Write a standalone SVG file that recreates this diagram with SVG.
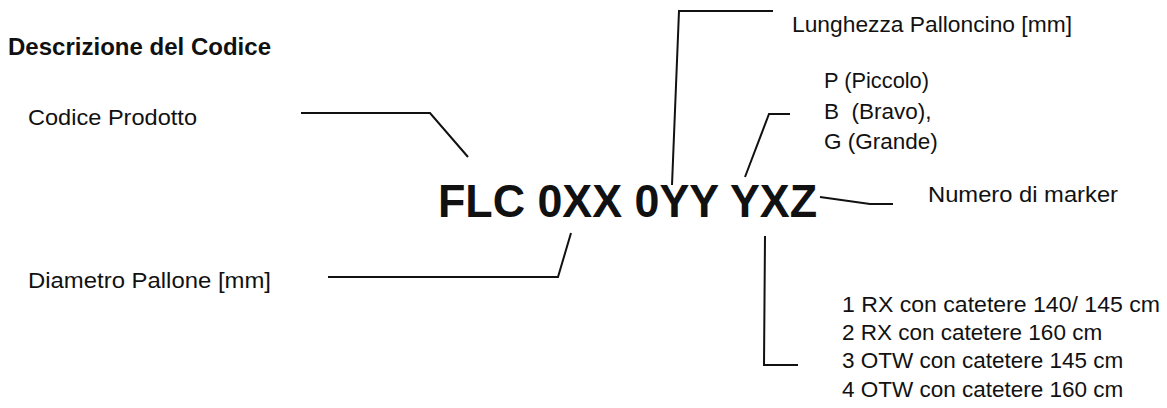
<svg xmlns="http://www.w3.org/2000/svg" width="1167" height="408" viewBox="0 0 1167 408">
<style>
text{font-family:"Liberation Sans",Arial,sans-serif;fill:#111;}
.t{font-size:22.5px;}
.b{font-weight:bold;}
.c{fill:none;stroke:#111;stroke-width:2;stroke-linejoin:miter;}
</style>
<rect width="1167" height="408" fill="#fff"/>
<g id="title"><text class="b" x="8" y="55" font-size="23" textLength="263" lengthAdjust="spacingAndGlyphs">Descrizione del Codice</text></g>
<g id="code"><text class="b" x="438" y="217" font-size="46" textLength="379" lengthAdjust="spacingAndGlyphs">FLC 0XX 0YY YXZ</text></g>
<g id="codice-prodotto"><text class="t" x="28" y="125" textLength="169" lengthAdjust="spacingAndGlyphs">Codice Prodotto</text></g>
<g id="diametro"><text class="t" x="28" y="288" textLength="243" lengthAdjust="spacingAndGlyphs">Diametro Pallone [mm]</text></g>
<g id="lunghezza"><text class="t" x="792" y="32" textLength="280" lengthAdjust="spacingAndGlyphs">Lunghezza Palloncino [mm]</text></g>
<g id="taglia">
<text class="t" x="824" y="88" textLength="105" lengthAdjust="spacingAndGlyphs">P (Piccolo)</text>
<text class="t" x="824" y="119" xml:space="preserve">B  (Bravo),</text>
<text class="t" x="824" y="149">G (Grande)</text>
</g>
<g id="marker"><text class="t" x="928" y="202" textLength="190" lengthAdjust="spacingAndGlyphs">Numero di marker</text></g>
<g id="catetere">
<text class="t" x="842" y="312" textLength="318" lengthAdjust="spacingAndGlyphs">1 RX con catetere 140/ 145 cm</text>
<text class="t" x="842" y="340">2 RX con catetere 160 cm</text>
<text class="t" x="842" y="368">3 OTW con catetere 145 cm</text>
<text class="t" x="842" y="397">4 OTW con catetere 160 cm</text>
</g>
<g id="connectors">
<polyline class="c" points="301,113 430,113 468,157"/>
<polyline class="c" points="328,277 558,277 571,233"/>
<polyline class="c" points="773,11 679,11 672,185"/>
<polyline class="c" points="790,114 769,114 745,177"/>
<polyline class="c" points="820,197 870,204 893,204"/>
<polyline class="c" points="765,236 764,365 798,365"/>
</g>
</svg>
